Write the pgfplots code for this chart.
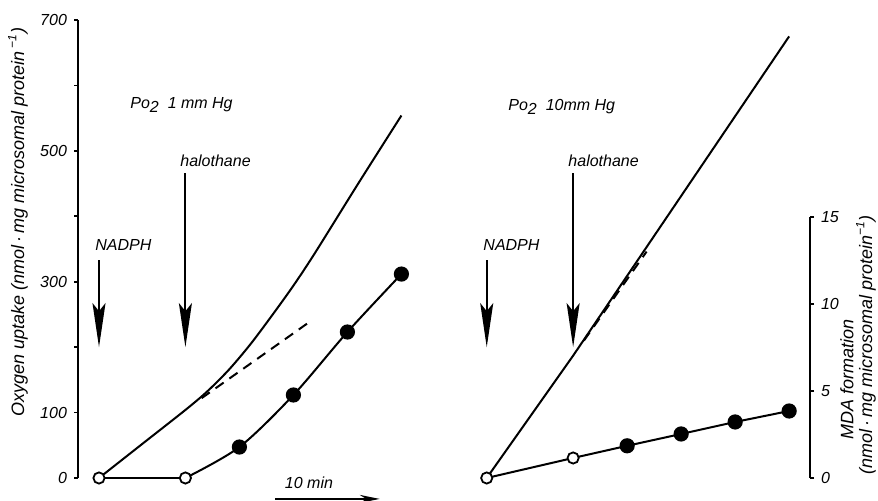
\documentclass[border=0pt]{standalone}
\usepackage{pgfplots}
\pgfplotsset{compat=1.18}
\usepackage{pgfplotstable}
\usepackage{fontspec}
\setmainfont{Liberation Sans}
\usetikzlibrary{arrows.meta}

% Oxygen uptake, Po2 1 mm Hg (t in min)
\pgfplotstableread{
t o
0 0
4 52
8 104
10 132
12 165
14 204
16 248
18 294
20 344
24 450
28 554
}\leftoxy
\pgfplotstableread{
t o
9.5 122
19.7 241
}\leftdash
% Oxygen uptake, Po2 10 mm Hg
\pgfplotstableread{
t o
0 0
8 187
28 675
}\rightoxy
\pgfplotstableread{
t o
9 210
14.8 346
}\rightdash
% MDA formation
\pgfplotstableread{
t m
0 0
8 0
}\leftmdaopen
\pgfplotstableread{
t m
8 0
13 1.78
18 4.77
23 8.39
28 11.72
}\leftmda
\pgfplotstableread{
t m
0 0
8 1.15
13 1.85
18 2.53
23 3.22
28 3.85
}\rightmda

\begin{document}
\begin{tikzpicture}[x=1pt,y=1pt,font=\itshape\fontsize{8}{9.6}\selectfont]
\useasboundingbox (0,0) rectangle (439,250.5);
\begin{axis}[
  at={(39pt,11.5pt)}, anchor=south west,
  scale only axis, width=366pt, height=229pt,
  xmin=-1.944, xmax=65.83, ymin=0, ymax=700,
  clip=false,
  axis x line=none, axis y line=left,
  axis line style={-, line width=1pt},
  ytick={0,100,...,700},
  yticklabels={0,100,,300,,500,,700},
  tick align=outside, major tick length=2pt,
  tick style={line width=0.9pt, black},
  /pgf/number format/assume math mode=true,
  yticklabel style={font=\itshape\fontsize{8}{9.6}\selectfont},
  every axis plot/.append style={line width=1pt, black},
]
\addplot[smooth, tension=0.5, no marks] table[x=t, y=o] \leftoxy;
\addplot[dashed, dash pattern=on 5pt off 3.5pt, no marks] table[x=t, y=o] \leftdash;
\addplot[no marks] table[x expr=\thisrow{t}+35.9, y=o] \rightoxy;
\addplot[dashed, dash pattern=on 5pt off 3.5pt, no marks] table[x expr=\thisrow{t}+35.9, y=o] \rightdash;

% arrows
\draw[line width=1pt, -{Stealth[length=22pt,width=6.5pt,inset=4pt]}] (axis cs:0,333) -- (axis cs:0,200);
\draw[line width=1pt, -{Stealth[length=22pt,width=6.5pt,inset=4pt]}] (axis cs:8,466) -- (axis cs:8,200);
\draw[line width=1pt, -{Stealth[length=22pt,width=6.5pt,inset=4pt]}] (axis cs:35.9,333) -- (axis cs:35.9,200);
\draw[line width=1pt, -{Stealth[length=22pt,width=6.5pt,inset=4pt]}] (axis cs:43.9,466) -- (axis cs:43.9,200);
\node[anchor=west, inner sep=0pt] at (axis cs:-0.37,356) {NADPH};
\node[anchor=west, inner sep=0pt] at (axis cs:35.56,356) {NADPH};
\node[anchor=west, inner sep=0pt] at (axis cs:7.5,485) {halothane};
\node[anchor=west, inner sep=0pt] at (axis cs:43.43,485) {halothane};
\node[anchor=base west, inner sep=0pt] at (axis cs:2.87,565) {Po\raisebox{-0.5ex}{2}\ \ 1 mm Hg};
\node[anchor=base west, inner sep=0pt] at (axis cs:37.87,562) {Po\raisebox{-0.5ex}{2}\ \ 10mm Hg};
\node[inner sep=0pt] at (axis cs:19.44,-7.6) {10 min};
\draw[line width=1pt, -{Stealth[length=10pt,width=4pt]}] (axis cs:16.3,-32) -- (axis cs:26.0,-32);
\end{axis}

\begin{axis}[
  at={(39pt,11.5pt)}, anchor=south west,
  scale only axis, width=366pt, height=130.5pt,
  xmin=-1.944, xmax=65.83, ymin=0, ymax=15,
  clip=false,
  axis x line=none, axis y line=right,
  axis line style={-, line width=1pt},
  ytick={0,5,10,15}, yticklabels={0,5,10,15},
  tick align=outside, major tick length=2pt,
  tick style={line width=0.9pt, black},
  /pgf/number format/assume math mode=true,
  yticklabel style={font=\itshape\fontsize{8}{9.6}\selectfont},
  every axis plot/.append style={line width=1pt, black},
]
\addplot[smooth, mark=*, mark size=3.3pt, mark options={fill=black},
  mark indices={2,3,4,5}] table[x=t, y=m] \leftmda;
\addplot[mark=*, mark size=2.8pt, mark options={fill=white, line width=0.9pt}] table[x=t, y=m] \leftmdaopen;
\addplot[no marks] table[x expr=\thisrow{t}+35.9, y=m] \rightmda;
\addplot[only marks, mark=*, mark size=2.8pt, mark options={fill=white, line width=0.9pt},
  mark indices={1,2}] table[x expr=\thisrow{t}+35.9, y=m] \rightmda;
\addplot[only marks, mark=*, mark size=3.3pt, mark options={fill=black},
  mark indices={3,4,5,6}] table[x expr=\thisrow{t}+35.9, y=m] \rightmda;
\end{axis}

\node[rotate=90, font=\itshape\fontsize{9}{10.8}\selectfont] at (9,139.5)
  {Oxygen uptake (nmol\,·\,mg microsomal protein\,\textsuperscript{−1})};
\node[rotate=90, font=\itshape\fontsize{9}{10.8}\selectfont] at (423.5,61) {MDA formation};
\node[rotate=90, font=\itshape\fontsize{9}{10.8}\selectfont] at (433,78)
  {(nmol\,·\,mg microsomal protein\textsuperscript{−1})};
\end{tikzpicture}
\end{document}
